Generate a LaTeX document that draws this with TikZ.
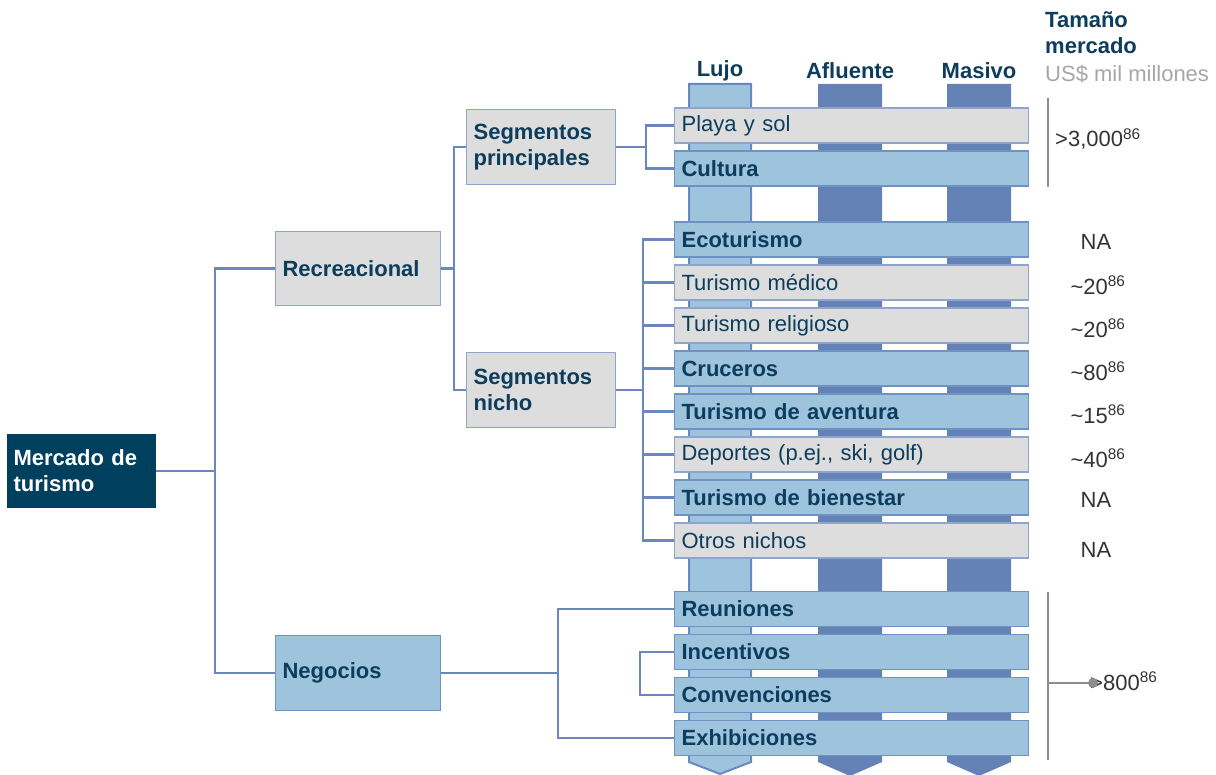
\documentclass[tikz,border=0pt]{standalone}
\usepackage{fontspec}
\setmainfont{Liberation Sans}
\definecolor{navy}{HTML}{0D3D5C}
\definecolor{darkbox}{HTML}{00405F}
\definecolor{conn}{HTML}{6B87BE}
\definecolor{lblue}{HTML}{9DC3DD}
\definecolor{lgray}{HTML}{DDDDDD}
\definecolor{bborder}{HTML}{6F92C4}
\definecolor{gborder}{HTML}{8EA6CE}
\definecolor{coldark}{HTML}{6482B5}
\definecolor{valtxt}{HTML}{333333}
\definecolor{gline}{HTML}{8C8C8C}
\definecolor{unitgray}{HTML}{A6A6A6}
\usetikzlibrary{positioning}
\begin{document}
\begin{tikzpicture}[x=1pt,y=-1pt,
  every node/.style={font=\fontsize{22}{26}\selectfont},
  connector/.style={draw=conn, line width=2.5pt},
  barbase/.style={draw, line width=1.2pt, minimum height=35pt, text width=340pt,
    inner xsep=7pt, inner ysep=0pt, align=left, anchor=west},
  bluebar/.style={barbase, fill=lblue, draw=bborder, text=navy, font=\fontsize{22}{26}\selectfont\bfseries},
  graybar/.style={barbase, fill=lgray, draw=gborder, text=navy},
  treebox/.style={draw, line width=1.2pt, inner xsep=7pt, inner ysep=0pt, align=left, anchor=north west,
    font=\fontsize{22}{26}\selectfont\bfseries, text=navy},
  graybox/.style={treebox, fill=lgray, draw=gborder},
  bluebox/.style={treebox, fill=lblue, draw=bborder},
  colhead/.style={text=navy, font=\fontsize{22}{26}\selectfont\bfseries},
  value/.style={text=valtxt, font=\fontsize{22}{26}\selectfont},
  sizeline/.style={draw=gline, line width=1.8pt}
]
\useasboundingbox (0,0) rectangle (1216,775);

% columns
\fill[lblue, draw=conn, line width=2pt] (689,84) -- (751,84) -- (751,762) -- (720,774) -- (689,762) -- cycle;
\fill[coldark] (818,84) -- (882,84) -- (882,762) -- (850,776) -- (818,762) -- cycle;
\fill[coldark] (947,84) -- (1011,84) -- (1011,762) -- (979,776) -- (947,762) -- cycle;

% column headers
\node[colhead] (hlujo) at (720,71) {Lujo};
\node[colhead] (hafl) at (850,71) {Afluente};
\node[colhead] (hmas) at (979,71) {Masivo};

% market size header
\node[anchor=west, text=navy, font=\fontsize{22}{26}\selectfont\bfseries, align=left, inner sep=0pt] (htam) at (1045,33) {Tamaño\\mercado};
\node[anchor=west, text=unitgray, font=\fontsize{22}{26}\selectfont, inner sep=0pt] (hunit) at (1045,74) {US\$ mil millones};

% tree boxes
\node[treebox, fill=darkbox, draw=darkbox, text=white, text width=136pt, inner xsep=6pt, minimum height=73pt] (merc) at (7,434) {Mercado de\\turismo};
\node[graybox, text width=151pt, minimum height=74pt] (recr) at (275,231) {Recreacional};
\node[bluebox, text width=151pt, minimum height=75pt] (neg) at (275,635) {Negocios};
\node[graybox, text width=135pt, minimum height=75pt] (segp) at (466,109) {Segmentos\\principales};
\node[graybox, text width=135pt, minimum height=75pt] (segn) at (466,352) {Segmentos\\nicho};

% bars
\node[graybar] (playa) at (674,125.5) {Playa y sol};
\node[bluebar] (cult) at (674,168.5) {Cultura};
\node[bluebar] (eco) at (674,239.5) {Ecoturismo};
\node[graybar] (med) at (674,282.5) {Turismo médico};
\node[graybar] (rel) at (674,325.5) {Turismo religioso};
\node[bluebar] (cruc) at (674,368.5) {Cruceros};
\node[bluebar] (aven) at (674,411.5) {Turismo de aventura};
\node[graybar] (dep) at (674,454.5) {Deportes (p.ej., ski, golf)};
\node[bluebar] (bien) at (674,497.5) {Turismo de bienestar};
\node[graybar] (otros) at (674,540.5) {Otros nichos};
\node[bluebar] (reun) at (674,609) {Reuniones};
\node[bluebar] (inc) at (674,652) {Incentivos};
\node[bluebar] (conv) at (674,695) {Convenciones};
\node[bluebar] (exh) at (674,738) {Exhibiciones};

% connectors
\draw[connector] (merc.east) -- ++(59,0) |- (recr.west);
\draw[connector] (merc.east) -- ++(59,0) |- (neg.west);
\draw[connector] (recr.east) -- ++(13,0) |- (segp.west);
\draw[connector] (recr.east) -- ++(13,0) |- (segn.west);
\draw[connector] (segp.east) -- ++(30,0) |- (playa.west);
\draw[connector] (segp.east) -- ++(30,0) |- (cult.west);
\foreach \b in {eco,med,rel,cruc,aven,dep,bien,otros}
  \draw[connector] (segn.east) -- ++(27,0) |- (\b.west);
\draw[connector] (neg.east) -- ++(117,0) |- (reun.west);
\draw[connector] (neg.east) -- ++(117,0) |- (exh.west);
\draw[connector] (inc.west) -- ++(-34,0) |- (conv.west);

% market sizes
\coordinate (s1top) at (1048,98);
\coordinate (s1bot) at (1048,187);
\draw[sizeline] (s1top) -- (s1bot);
\node[value, anchor=west, inner sep=0pt] (v1) at (1055,139) {>3,000\textsuperscript{86}};
\node[value] (v2) at (1096,242) {NA};
\node[value] (v3) at (1098,285) {\textasciitilde 20\textsuperscript{86}};
\node[value] (v4) at (1098,328) {\textasciitilde 20\textsuperscript{86}};
\node[value] (v5) at (1098,371) {\textasciitilde 80\textsuperscript{86}};
\node[value] (v6) at (1098,414) {\textasciitilde 15\textsuperscript{86}};
\node[value] (v7) at (1098,458) {\textasciitilde 40\textsuperscript{86}};
\node[value] (v8) at (1096,500) {NA};
\node[value] (v9) at (1096,550) {NA};
\coordinate (s2top) at (1048,592);
\coordinate (s2bot) at (1048,760);
\coordinate (s2mid) at (1048,683);
\draw[sizeline] (s2top) -- (s2bot);
\node[value, anchor=west, inner sep=0pt] (v10) at (1090,681) {>800\textsuperscript{86}};
\coordinate (dot) at (1093,683);
\draw[sizeline] (s2mid) -- (dot);
\fill[gline] (dot) circle (5);
\end{tikzpicture}
\end{document}
